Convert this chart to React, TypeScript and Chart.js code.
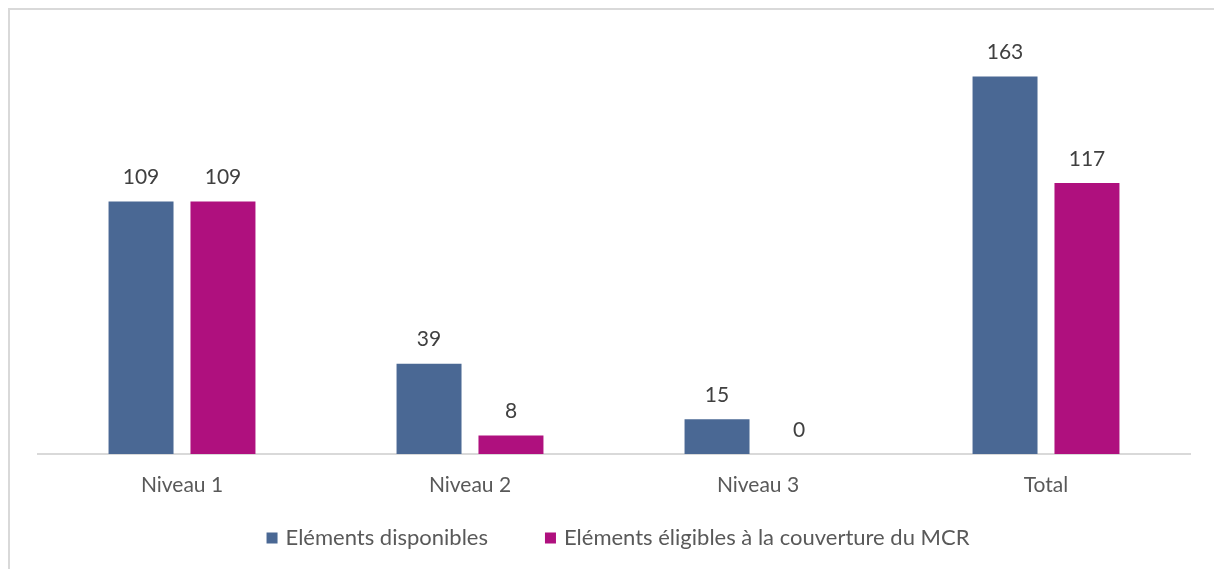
import React, { useEffect, useRef } from "react";
import { Chart, registerables } from "chart.js";

Chart.register(...registerables);

const categories = ["Niveau 1", "Niveau 2", "Niveau 3", "Total"];
const seriesNames = ["Eléments disponibles", "Eléments éligibles à la couverture du MCR"];
const disponibles = [109, 39, 15, 163];
const eligibles = [109, 8, 0, 117];
const seriesColors = ["#4A6894", "#AF107E"];

const FONT = "Lato, 'Open Sans', sans-serif";

const dataLabels = {
  id: "dataLabels",
  afterDatasetsDraw(chart: any) {
    const ctx = chart.ctx;
    ctx.save();
    ctx.font = `21px ${FONT}`;
    ctx.fillStyle = "#404040";
    ctx.textAlign = "center";
    ctx.textBaseline = "middle";
    chart.data.datasets.forEach((ds: any, i: number) => {
      const meta = chart.getDatasetMeta(i);
      meta.data.forEach((el: any, j: number) => {
        ctx.fillText(String(ds.data[j]), el.x, el.y - 24);
      });
    });
    ctx.restore();
  },
};

// Legend drawn on the canvas from the datasets (wide spacing between items)
const bottomLegend = {
  id: "bottomLegend",
  afterDraw(chart: any) {
    const ctx = chart.ctx;
    const box = 11;
    const gapText = 8;
    const gapItems = 57;
    ctx.save();
    ctx.font = `22px ${FONT}`;
    const items = chart.data.datasets.map((ds: any) => ({
      text: ds.label,
      color: ds.backgroundColor,
      w: box + gapText + ctx.measureText(ds.label).width,
    }));
    const total = items.reduce((s: number, it: any) => s + it.w, 0) + gapItems * (items.length - 1);
    const cx = 618;
    const cy = 538;
    let x = cx - total / 2;
    ctx.textBaseline = "middle";
    ctx.textAlign = "left";
    items.forEach((it: any) => {
      ctx.fillStyle = it.color;
      ctx.fillRect(x, cy - box / 2, box, box);
      ctx.fillStyle = "#595959";
      ctx.fillText(it.text, x + box + gapText, cy);
      x += it.w + gapItems;
    });
    ctx.restore();
  },
};

export default function App() {
  const ref = useRef<HTMLCanvasElement>(null);
  useEffect(() => {
    if (!ref.current) return;
    const chart = new Chart(ref.current, {
      type: "bar",
      data: {
        labels: categories,
        datasets: [
          {
            label: seriesNames[0],
            data: disponibles,
            backgroundColor: seriesColors[0],
            barPercentage: 0.793,
            categoryPercentage: 0.569,
          },
          {
            label: seriesNames[1],
            data: eligibles,
            backgroundColor: seriesColors[1],
            barPercentage: 0.793,
            categoryPercentage: 0.569,
          },
        ],
      },
      options: {
        animation: false,
        responsive: false,
        maintainAspectRatio: false,
        layout: { padding: { left: 38, right: 24, top: 37, bottom: 0 } },
        scales: {
          x: {
            grid: { display: false, drawTicks: false },
            border: { display: true, color: "#d9d9d9", width: 2 },
            ticks: { color: "#595959", font: { family: FONT, size: 21 }, padding: 19 },
            afterFit(scale: any) {
              scale.height = 569 - 454;
            },
          },
          y: {
            display: false,
            min: 0,
            max: 180,
          },
        },
        plugins: {
          tooltip: { enabled: false },
          legend: { display: false },
        },
      },
      plugins: [dataLabels, bottomLegend],
    });
    return () => chart.destroy();
  }, []);

  return (
    <div style={{ position: "fixed", left: 0, top: 0, width: 1214, height: 569, background: "#fff", overflow: "hidden" }}>
      <div style={{ position: "absolute", left: 8, top: 8, width: 1300, height: 2, background: "#d9d9d9" }} />
      <div style={{ position: "absolute", left: 8, top: 8, width: 2, height: 700, background: "#d9d9d9" }} />
      <canvas ref={ref} width={1214} height={569} style={{ position: "absolute", left: 0, top: 0 }} />
    </div>
  );
}
